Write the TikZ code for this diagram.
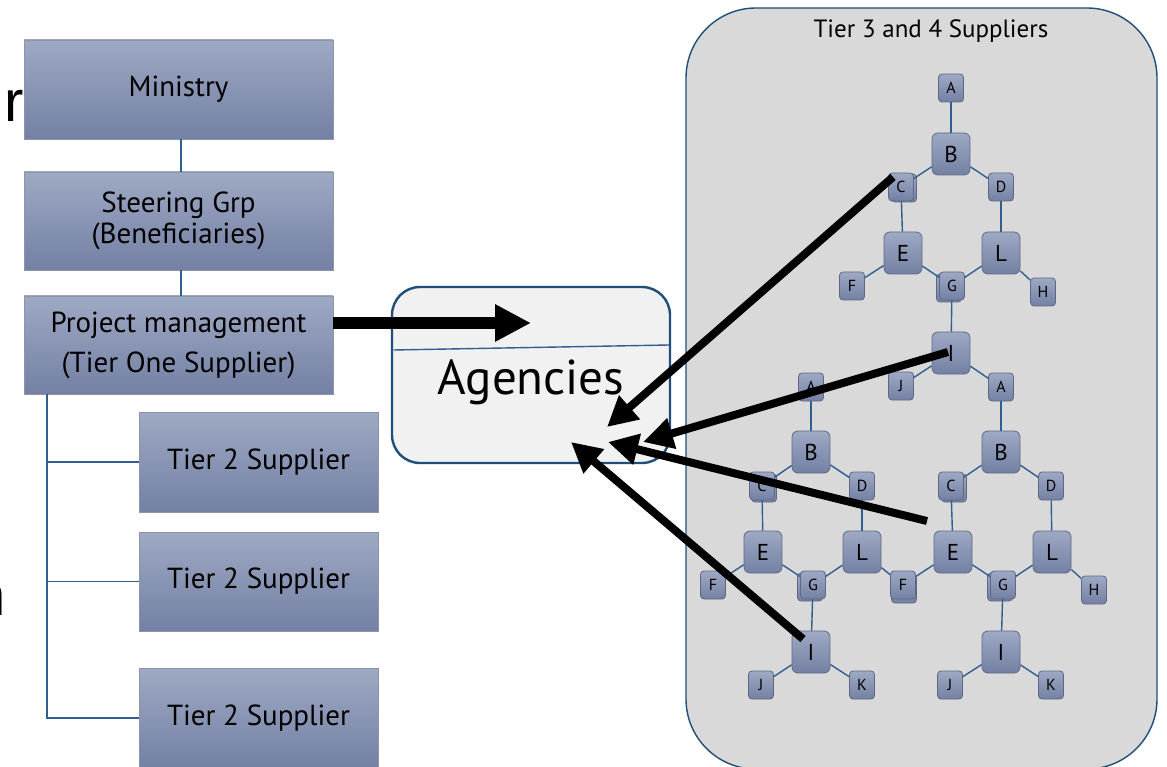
\documentclass[tikz,border=0pt]{standalone}
\usepackage{fontspec}
\setmainfont{PT Sans}
\newfontfamily\bgfont{Liberation Sans}
\usetikzlibrary{arrows.meta}

\definecolor{navy}{HTML}{1F4E79}
\definecolor{linkblue}{HTML}{2E5F8E}
\definecolor{boxtop}{HTML}{9EA9C3}
\definecolor{boxbot}{HTML}{7480A4}
\definecolor{boxedge}{HTML}{5F6883}
\definecolor{panel}{HTML}{D9D9D9}
\definecolor{agfill}{HTML}{F1F1F1}

\begin{document}
\begin{tikzpicture}[x=1pt,y=-1pt,
  orgbox/.style={rectangle, top color=boxtop, bottom color=boxbot, draw=boxedge!70,
    line width=0.8pt, inner sep=0pt, align=center, font=\fontsize{29}{31}\selectfont},
  tn/.style={rectangle, rounded corners=3.5pt, top color=boxtop, bottom color=boxbot,
    draw=boxedge, line width=0.8pt, minimum width=25pt, minimum height=28pt,
    inner sep=0pt, font=\fontsize{16}{16}\selectfont},
  bign/.style={tn, rounded corners=6pt, minimum width=38pt, minimum height=42pt,
    font=\fontsize{23}{23}\selectfont},
  link/.style={draw=linkblue, line width=1.4pt},
  feed/.style={line width=8pt, -{Triangle[length=30pt,width=30pt]}},
  bgtext/.style={inner sep=0pt, outer sep=0pt, anchor=base east,
    font=\bgfont\fontsize{58}{58}\selectfont},
]
\useasboundingbox (0,0) rectangle (1167,767);
\clip (0,0) rectangle (1167,767);

% words of the slide title, mostly covered by the org chart
\node[bgtext] (bgA) at (24,122) {r};
\node[bgtext] (bgB) at (6,615) {n};

% ---------- organisation chart ----------
\node[orgbox, minimum width=309pt, minimum height=99pt] (min) at (178.5,89.5) {Ministry};
\node[orgbox, minimum width=309pt, minimum height=98pt] (steer) at (178.5,221)
  {Steering Grp\\(Beneficiaries)};
\node[orgbox, minimum width=309pt, minimum height=98pt,
  font=\fontsize{29}{40}\selectfont] (pm) at (178.5,345)
  {Project management\\(Tier One Supplier)};
\node[orgbox, minimum width=239pt, minimum height=100pt] (t2a) at (258.5,462) {Tier 2 Supplier};
\node[orgbox, minimum width=239pt, minimum height=99pt] (t2b) at (258.5,581.5) {Tier 2 Supplier};
\node[orgbox, minimum width=239pt, minimum height=100pt] (t2c) at (258.5,718) {Tier 2 Supplier};

\draw[link] ([xshift=2.5pt]min.south) -- ([xshift=2.5pt]steer.north);
\draw[link] ([xshift=2.5pt]steer.south) -- ([xshift=2.5pt]pm.north);
\draw[link] ([xshift=23.5pt]pm.south west) |- (t2a.west);
\draw[link] ([xshift=23.5pt]pm.south west) |- (t2b.west);
\draw[link] ([xshift=23.5pt]pm.south west) |- (t2c.west);

% ---------- agencies ----------
\node[draw=navy, line width=2.4pt, fill=agfill, rounded corners=28pt,
  minimum width=278pt, minimum height=176pt] (ag) at (531,375) {};
\draw[link] (393.5,350) -- (669,345);
\node[inner sep=0pt, font=\fontsize{49}{49}\selectfont] (agtext) at (531,382) {Agencies};

% ---------- tier 3 and 4 panel ----------
\node[draw=navy, line width=1.4pt, fill=panel, rounded corners=70pt,
  minimum width=471pt, minimum height=761pt] (panel) at (921.5,388.5) {};
\node[font=\fontsize{25}{25}\selectfont] (ptitle) at (931,31) {Tier 3 and 4 Suppliers};

% duplicated boxes lying just behind some nodes
\node[tn] (t-Cg) at (904,188) {};
\node[tn] (t-Gg) at (949,288) {};
\node[tn] (l-Cg) at (764,488) {};
\node[tn] (l-Gg) at (810,587) {};
\node[tn] (m-Fg) at (904,589) {};
\node[tn] (r-Cg) at (954,488) {};
\node[tn] (r-Gg) at (1000,587) {};

% upper tree
\node[tn]   (t-A) at (951,88)  {A};
\node[bign] (t-B) at (951,154) {B};
\node[tn]   (t-C) at (901,187) {C};
\node[tn]   (t-D) at (1001,187) {D};
\node[bign] (t-E) at (903,253) {E};
\node[bign] (t-L) at (1001,253) {L};
\node[tn]   (t-F) at (852,286) {F};
\node[tn]   (t-G) at (952,286) {G};
\node[tn]   (t-H) at (1043,292) {H};
\node[bign] (t-I) at (951,353) {I};
\node[tn]   (t-J) at (901,386) {J};

% lower left tree
\node[tn]   (l-A) at (811,387) {A};
\node[bign] (l-B) at (811,452) {B};
\node[tn]   (l-C) at (762,486) {C};
\node[tn]   (l-D) at (862,486) {D};
\node[bign] (l-E) at (763,552) {E};
\node[bign] (l-L) at (862,552) {L};
\node[tn]   (l-F) at (713,585) {F};
\node[tn]   (l-G) at (813,585) {G};
\node[bign] (l-I) at (811,652) {I};
\node[tn]   (l-J) at (761,685) {J};
\node[tn]   (l-K) at (862,685) {K};

% box shared by both lower trees
\node[tn]   (m-F) at (903,585) {F};

% lower right tree
\node[tn]   (r-A) at (1001,387) {A};
\node[bign] (r-B) at (1001,452) {B};
\node[tn]   (r-C) at (951,486) {C};
\node[tn]   (r-D) at (1051,486) {D};
\node[bign] (r-E) at (953,552) {E};
\node[bign] (r-L) at (1052,552) {L};
\node[tn]   (r-G) at (1003,585) {G};
\node[tn]   (r-H) at (1094,590) {H};
\node[bign] (r-I) at (1001,652) {I};
\node[tn]   (r-J) at (950,685) {J};
\node[tn]   (r-K) at (1051,685) {K};

\foreach \a/\b in {t-A/t-B, t-B/t-C, t-B/t-D, t-C/t-E, t-D/t-L, t-E/t-F, t-E/t-G,
    t-L/t-G, t-L/t-H, t-G/t-I, t-I/t-J, t-I/r-A,
    l-A/l-B, l-B/l-C, l-B/l-D, l-C/l-E, l-D/l-L, l-E/l-F, l-E/l-G, l-L/l-G, l-L/m-F,
    l-G/l-I, l-I/l-J, l-I/l-K,
    r-A/r-B, r-B/r-C, r-B/r-D, r-C/r-E, r-D/r-L, r-E/m-F, r-E/r-G, r-L/r-G, r-L/r-H,
    r-G/r-I, r-I/r-J, r-I/r-K}
  \draw[link] (\a) -- (\b);

% ---------- flows into the agencies ----------
\coordinate (pmtip) at (531,323);
\draw[line width=12pt, -{Triangle[length=36pt,width=35pt]}] (pm.east |- pmtip) -- (pmtip);

\coordinate (f1s) at ([shift={(-8,-10)}]t-C.center);
\coordinate (f2s) at ([shift={(-3,-1)}]t-I.center);
\coordinate (f3s) at (927,521);
\coordinate (f4s) at ([shift={(-8,-13)}]l-I.center);
\coordinate (f1e) at (607,427);
\coordinate (f2e) at (643,442);
\coordinate (f3e) at (608,442);
\coordinate (f4e) at (571,442);
\draw[feed] (f1s) -- (f1e);
\draw[feed] (f2s) -- (f2e);
\draw[feed] (f3s) -- (f3e);
\draw[feed] (f4s) -- (f4e);
\end{tikzpicture}
\end{document}
